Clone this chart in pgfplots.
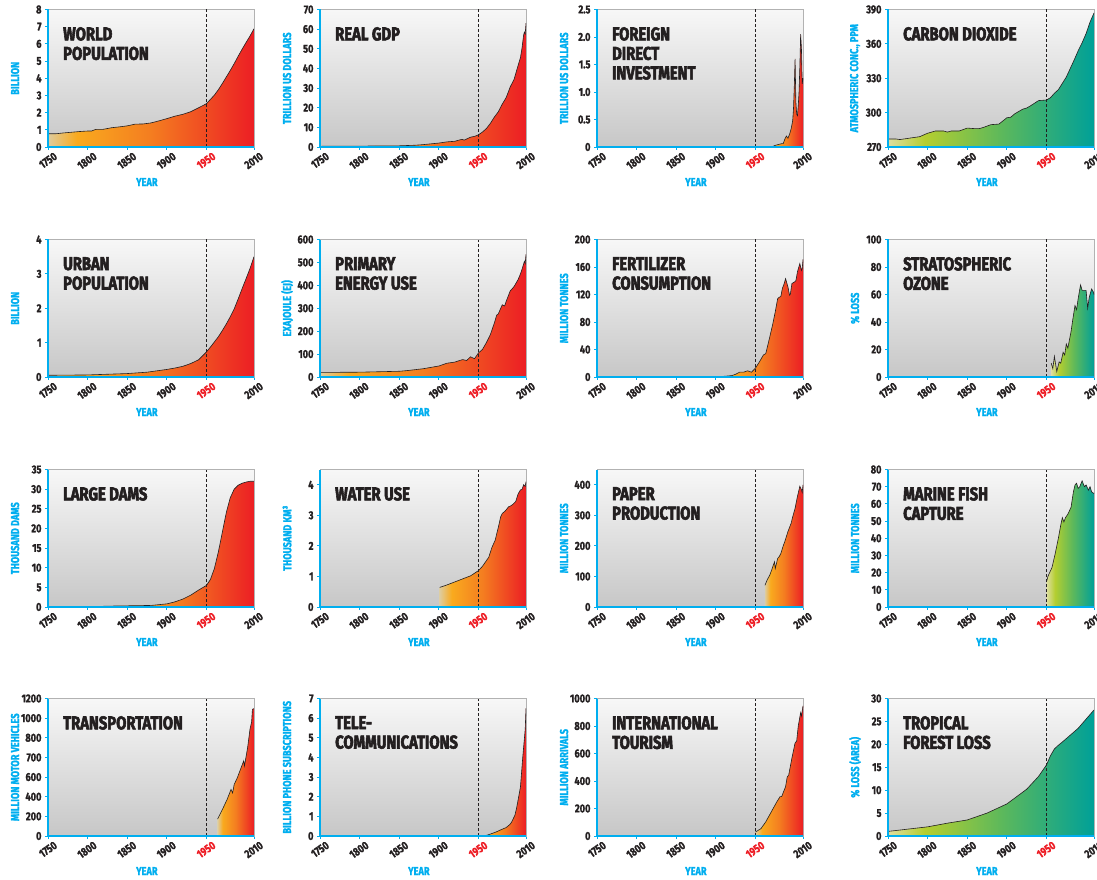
\documentclass[border=0pt]{standalone}
\usepackage{pgfplots}
\pgfplotsset{compat=1.18}
\usepackage{pgfplotstable}
\usepackage{fontspec}
\setmainfont{Fira Sans}[FakeStretch=0.8, BoldFeatures={FakeBold=1.5}]
\newfontfamily\titlefont{Fira Sans}[FakeStretch=0.8, BoldFeatures={FakeBold=3}]

\definecolor{cy}{RGB}{0,174,239}
\definecolor{ink}{RGB}{35,31,32}
\definecolor{redyr}{RGB}{237,28,36}
\definecolor{wbeige}{RGB}{222,204,158}
\definecolor{wyellow}{RGB}{249,170,30}
\definecolor{worange}{RGB}{244,125,32}
\definecolor{wred}{RGB}{236,30,36}
\definecolor{gpale}{RGB}{222,222,160}
\definecolor{gyel}{RGB}{180,206,48}
\definecolor{ggreen}{RGB}{95,185,90}
\definecolor{gteal}{RGB}{0,160,152}

\pgfdeclarehorizontalshading{warm}{100bp}{color(0bp)=(wbeige); color(25bp)=(wbeige); color(32bp)=(wyellow); color(50bp)=(worange); color(75bp)=(wred); color(100bp)=(wred)}
\pgfdeclarehorizontalshading{cool}{100bp}{color(0bp)=(gpale); color(25bp)=(gpale); color(34bp)=(gyel); color(52bp)=(ggreen); color(75bp)=(gteal); color(100bp)=(gteal)}

% ---- data ----
\pgfplotstableread{
1750 0.77
1760 0.77
1770 0.82
1780 0.86
1790 0.90
1800 0.93
1805 0.93
1810 1.02
1820 1.03
1830 1.12
1840 1.17
1850 1.23
1860 1.33
1870 1.34
1880 1.40
1890 1.52
1900 1.65
1910 1.79
1920 1.90
1930 2.05
1940 2.28
1950 2.52
1955 2.77
1960 3.02
1965 3.33
1970 3.69
1975 4.07
1980 4.45
1985 4.85
1990 5.28
1995 5.69
2000 6.08
2005 6.46
2010 6.88
}\popT
\pgfplotstableread{
1750 0.35
1800 0.45
1850 0.6
1870 0.9
1880 1.2
1890 1.6
1900 2.0
1910 2.6
1913 2.7
1920 2.9
1929 3.9
1932 3.5
1940 5.0
1945 5.4
1950 6.2
1955 7.6
1960 9.4
1965 12.0
1970 15.2
1975 17.9
1980 21.8
1985 25.2
1990 30.5
1995 34.5
2000 41.5
2003 45.5
2005 50.5
2007 57.0
2008 58.5
2009 57.5
2010 63.0
}\gdpT
\pgfplotstableread{
1970 0.0
1975 0.03
1980 0.05
1983 0.06
1985 0.06
1987 0.14
1989 0.2
1991 0.16
1993 0.23
1995 0.33
1997 0.48
1998 0.7
1999 1.1
2000 1.6
2001 0.82
2002 0.6
2003 0.57
2004 0.75
2005 1.0
2006 1.45
2007 2.05
2008 1.8
2009 1.15
2010 1.25
}\fdiT
\pgfplotstableread{
1750 277
1760 277
1765 276.5
1770 277
1780 278
1790 279
1800 282
1810 284
1820 284
1825 283
1830 284
1840 284
1850 286.5
1860 286
1865 286
1870 287
1880 289.5
1890 290
1900 295.5
1905 296
1910 299
1920 303
1925 304
1930 306
1940 310.5
1950 311
1955 313
1960 316.9
1965 320
1970 325.5
1975 331
1980 338.5
1985 346
1990 354
1995 361
2000 369
2005 379
2010 387
}\cotT
\pgfplotstableread{
1750 0.05
1800 0.06
1850 0.1
1875 0.14
1900 0.22
1910 0.26
1920 0.31
1930 0.39
1940 0.5
1950 0.73
1955 0.87
1960 1.02
1965 1.17
1970 1.35
1975 1.54
1980 1.75
1985 1.98
1990 2.27
1995 2.57
2000 2.86
2005 3.16
2010 3.5
}\urbT
\pgfplotstableread{
1750 20
1800 21
1850 25
1860 28
1870 32
1880 36
1890 42
1900 48
1910 60
1920 65
1930 76
1935 72
1940 88
1945 80
1950 105
1955 120
1960 150
1965 185
1970 235
1973 270
1975 275
1980 315
1983 310
1985 330
1990 375
1995 395
2000 425
2003 450
2005 470
2008 505
2009 495
2010 535
}\enT
\pgfplotstableread{
1905 0
1910 1
1920 2
1925 4
1930 7
1935 7
1940 9
1945 7
1950 13
1955 22
1960 32
1963 34
1968 58
1972 78
1975 95
1978 114
1980 116
1982 117
1984 129
1986 135
1988 143
1990 135
1991 131
1993 119
1994 120
1996 136
1999 138
2001 140
2003 153
2006 165
2008 155
2009 158
2010 171
}\ferT
\pgfplotstableread{
1956 10
1958 6
1960 15
1963 4
1966 11
1968 10
1971 18
1973 16
1975 24
1977 21
1979 27
1981 33
1983 41
1986 52
1988 49
1990 57
1993 67
1995 63
1998 63
2000 63
2002 50
2004 58
2007 64
2009 62
2010 60
}\ozoT
\pgfplotstableread{
1820 0.2
1850 0.3
1880 0.4
1900 0.8
1910 1.3
1920 2.0
1930 3.0
1940 4.3
1950 5.5
1955 7.0
1960 9.8
1965 14.0
1970 19.0
1975 24.0
1980 27.8
1985 30.0
1990 31.0
1995 31.5
2000 31.8
2005 32.0
2010 32.0
}\damT
\pgfplotstableread{
1901 0.64
1910 0.72
1920 0.82
1929 0.91
1940 1.02
1950 1.19
1955 1.33
1963 1.63
1967 1.95
1971 2.18
1975 2.6
1978 2.95
1980 3.06
1984 3.15
1988 3.28
1990 3.3
1993 3.35
1997 3.45
2000 3.7
2003 3.83
2005 3.85
2007 4.0
2009 3.95
2010 4.1
}\watT
\pgfplotstableread{
1962 71
1965 90
1968 104
1971 125
1974 148
1975 126
1978 159
1980 165
1982 175
1985 200
1987 214
1991 247
1995 274
1997 295
2000 323
2003 362
2006 395
2008 384
2009 375
2010 400
}\papT
\pgfplotstableread{
1950 14.6
1952 18
1954 20
1957 23
1961 31
1965 40
1968 47.6
1970 52
1972 49.5
1974 52
1977 54
1981 58
1984 67
1986 71
1988 72
1990 69
1992 70
1995 73.4
1997 71
1998 70
2000 71
2003 68
2005 70
2007 67
2010 66
}\fishT
% transportation: values on the axis scale (ticks labelled as in the source)
\pgfplotstableread{
1964 172
1970 268
1976 371
1981 474
1983 439
1985 525
1989 594
1993 680
1997 765
1998 714
2002 903
2005 1091
2007 1160
2008 1290
2010 1297
}\traT
\pgfplotstableread{
1957 0
1963 0.07
1972 0.2
1979 0.33
1985 0.43
1990 0.6
1992 0.72
1996 1.06
1998 1.4
2000 1.83
2003 2.5
2006 4.06
2009 5.43
2010 6.5
}\telT
\pgfplotstableread{
1950 29
1957 54
1963 103
1970 176
1977 249
1981 286
1983 286
1988 359
1990 428
1992 445
1996 567
2000 677
2002 690
2004 800
2007 897
2008 873
2010 946
}\touT
\pgfplotstableread{
1750 1
1775 1.5
1800 2
1825 2.8
1850 3.5
1875 5
1900 7
1925 10.2
1940 13
1950 15.5
1955 17.5
1960 19
1965 19.8
1970 20.5
1980 22
1990 23.5
2000 25.5
2010 27.5
}\forT

\newcommand\lblfont{\fontsize{11.5}{12}\selectfont\bfseries}
\tikzset{ttl/.style={anchor=north west, align=left, inner sep=0pt, text=ink,
  font=\titlefont\bfseries\fontsize{18.5}{19.5}\selectfont, xshift=15pt, yshift=-17.5pt}}

\pgfplotsset{
  panel/.style={
    scale only axis, width=206pt, height=137.5pt, anchor=south west,
    xmin=1750, xmax=2010, ymin=0, enlargelimits=false,
    xtick={1750,1800,1850,1900,2010},
    extra x ticks={1950},
    extra x tick style={grid=none, xticklabel style={text=redyr}},
    tick align=outside, xtick pos=bottom, ytick pos=left,
    major tick length=3pt,
    tick style={cy, line width=0.8pt},
    axis line style={draw=gray!60, line width=0.6pt},
    axis background/.style={top color=black!3, bottom color=black!22},
    /pgf/number format/assume math mode=true,
    /pgf/number format/1000 sep={},
    x tick label style={rotate=35, anchor=north east, xshift=7pt, yshift=-1pt, font=\lblfont, text=ink},
    y tick label style={font=\lblfont, text=ink},
    xlabel={YEAR},
    xlabel style={at={(axis description cs:0.48,-0.255)}, anchor=center, text=cy, font=\lblfont},
    ylabel style={at={(axis description cs:-0.16,0.5)}, anchor=center, text=cy, font=\lblfont},
    after end axis/.code={
      \draw[ink, line width=0.8pt, dash pattern=on 3pt off 2pt]
        ({axis cs:1950,0}|-{rel axis cs:0,0}) -- ({axis cs:1950,0}|-{rel axis cs:0,1});
      \draw[cy, line width=1.4pt] (rel axis cs:0,1) -- (rel axis cs:0,0) -- (rel axis cs:1,0);
    },
  },
  warmfill/.style={draw=none, shading=warm},
  coolfill/.style={draw=none, shading=cool},
  edge/.style={ink, line width=0.6pt},
}

\begin{document}
\begin{tikzpicture}
\path[use as bounding box] (0pt,0pt) rectangle (1097pt,879pt);

% ===== row 1 =====
\begin{axis}[panel, at={(48pt,732pt)}, ymax=8, ytick={0,1,...,8}, ylabel={BILLION}]
  \addplot[warmfill] table {\popT} \closedcycle;
  \addplot[edge] table {\popT};
  \node[ttl] at (rel axis cs:0,1) {WORLD\\POPULATION};
\end{axis}

\begin{axis}[panel, at={(320pt,732pt)}, ymax=70, ytick={0,10,...,70}, ylabel={TRILLION US DOLLARS}]
  \addplot[warmfill] table {\gdpT} \closedcycle;
  \addplot[edge] table {\gdpT};
  \node[ttl] at (rel axis cs:0,1) {REAL GDP};
\end{axis}

\begin{axis}[panel, at={(597pt,732pt)}, ymax=2.5, ytick={0,0.5,1,1.5,2,2.5},
  yticklabels={0,0.5,1.0,1.5,2.0,2.5}, ylabel={TRILLION US DOLLARS}]
  \addplot[warmfill] table {\fdiT} \closedcycle;
  \addplot[edge] table {\fdiT};
  \node[ttl] at (rel axis cs:0,1) {FOREIGN\\DIRECT\\INVESTMENT};
\end{axis}

\begin{axis}[panel, at={(888pt,732pt)}, ymin=270, ymax=390, ytick={270,300,330,360,390},
  ylabel={ATMOSPHERIC CONC., PPM}]
  \addplot[coolfill] table {\cotT} \closedcycle;
  \addplot[edge] table {\cotT};
  \node[ttl] at (rel axis cs:0,1) {CARBON DIOXIDE};
\end{axis}

% ===== row 2 =====
\begin{axis}[panel, at={(48pt,502pt)}, ymax=4, ytick={0,1,...,4}, ylabel={BILLION}]
  \addplot[warmfill] table {\urbT} \closedcycle;
  \addplot[edge] table {\urbT};
  \node[ttl] at (rel axis cs:0,1) {URBAN\\POPULATION};
\end{axis}

\begin{axis}[panel, at={(320pt,502pt)}, ymax=600, ytick={0,100,...,600}, ylabel={EXAJOULE (EJ)}]
  \addplot[warmfill] table {\enT} \closedcycle;
  \addplot[edge] table {\enT};
  \node[ttl] at (rel axis cs:0,1) {PRIMARY\\ENERGY USE};
\end{axis}

\begin{axis}[panel, at={(597pt,502pt)}, ymax=200, ytick={0,40,...,200}, ylabel={MILLION TONNES}]
  \addplot[warmfill] table {\ferT} \closedcycle;
  \addplot[edge] table {\ferT};
  \node[ttl] at (rel axis cs:0,1) {FERTILIZER\\CONSUMPTION};
\end{axis}

\begin{axis}[panel, at={(888pt,502pt)}, ymax=100, ytick={0,20,...,100}, ylabel={\% LOSS}]
  \addplot[coolfill] table {\ozoT} \closedcycle;
  \addplot[edge] table {\ozoT};
  \node[ttl] at (rel axis cs:0,1) {STRATOSPHERIC\\OZONE};
\end{axis}

% ===== row 3 =====
\begin{axis}[panel, at={(48pt,272pt)}, ymax=35, ytick={0,5,...,35}, ylabel={THOUSAND DAMS}]
  \addplot[warmfill] table {\damT} \closedcycle;
  \addplot[edge] table {\damT};
  \node[ttl] at (rel axis cs:0,1) {LARGE DAMS};
\end{axis}

\begin{axis}[panel, at={(320pt,272pt)}, ymax=4.5, ytick={0,1,...,4}, ylabel={THOUSAND KM³}]
  \addplot[warmfill] table {\watT} \closedcycle;
  \addplot[edge] table {\watT};
  \node[ttl] at (rel axis cs:0,1) {WATER USE};
\end{axis}

\begin{axis}[panel, at={(597pt,272pt)}, ymax=450, ytick={0,100,...,400}, ylabel={MILLION TONNES}]
  \addplot[warmfill] table {\papT} \closedcycle;
  \addplot[edge] table {\papT};
  \node[ttl] at (rel axis cs:0,1) {PAPER\\PRODUCTION};
\end{axis}

\begin{axis}[panel, at={(888pt,272pt)}, ymax=80, ytick={0,10,...,80}, ylabel={MILLION TONNES}]
  \addplot[coolfill] table {\fishT} \closedcycle;
  \addplot[edge] table {\fishT};
  \node[ttl] at (rel axis cs:0,1) {MARINE FISH\\CAPTURE};
\end{axis}

% ===== row 4 =====
\begin{axis}[panel, at={(48pt,43pt)}, ymax=1400, ytick={0,200,...,1400},
  yticklabels={0,200,400,600,700,800,1000,1200}, ylabel={MILLION MOTOR VEHICLES}]
  \addplot[warmfill] table {\traT} \closedcycle;
  \addplot[edge] table {\traT};
  \node[ttl] at (rel axis cs:0,1) {TRANSPORTATION};
\end{axis}

\begin{axis}[panel, at={(320pt,43pt)}, ymax=7, ytick={0,1,...,7}, ylabel={BILLION PHONE SUBSCRIPTIONS}]
  \addplot[warmfill] table {\telT} \closedcycle;
  \addplot[edge] table {\telT};
  \node[ttl] at (rel axis cs:0,1) {TELE-\\COMMUNICATIONS};
\end{axis}

\begin{axis}[panel, at={(597pt,43pt)}, ymax=1000, ytick={0,200,...,1000}, ylabel={MILLION ARRIVALS}]
  \addplot[warmfill] table {\touT} \closedcycle;
  \addplot[edge] table {\touT};
  \node[ttl] at (rel axis cs:0,1) {INTERNATIONAL\\TOURISM};
\end{axis}

\begin{axis}[panel, at={(888pt,43pt)}, ymax=30, ytick={0,5,...,30}, ylabel={\% LOSS (AREA)}]
  \addplot[coolfill] table {\forT} \closedcycle;
  \addplot[edge] table {\forT};
  \node[ttl] at (rel axis cs:0,1) {TROPICAL\\FOREST LOSS};
\end{axis}
\end{tikzpicture}
\end{document}
